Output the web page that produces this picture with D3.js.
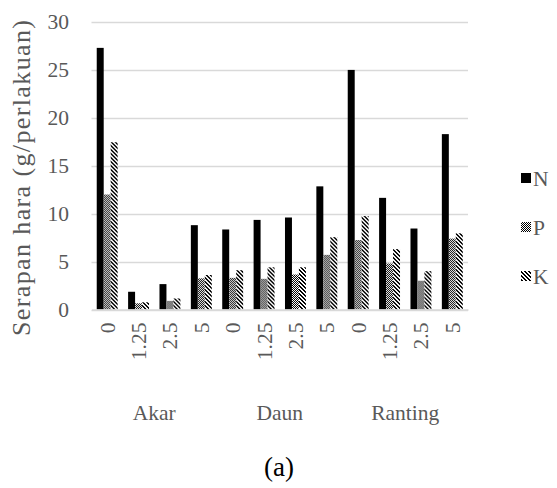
<!DOCTYPE html>
<html>
<head>
<meta charset="utf-8">
<script src="https://cdn.jsdelivr.net/npm/d3@7"></script>
<style>
  html, body { margin: 0; padding: 0; background: #fff; }
  svg { display: block; }
</style>
</head>
<body>
<svg id="chart" width="557" height="488"></svg>
<script>
// Plant parts (outer category) and doses (inner category)
const groups = ["Akar", "Daun", "Ranting"];
const doses = ["0", "1.25", "2.5", "5"];
const seriesNames = ["N", "P", "K"];

// Nutrient uptake per treatment, in order Akar 0..5, Daun 0..5, Ranting 0..5
const valuesN = [27.3, 1.85, 2.65, 8.8, 8.35, 9.35, 9.6, 12.85, 25.0, 11.65, 8.45, 18.3];
const valuesP = [12.0, 0.65, 0.9, 3.25, 3.3, 3.2, 3.65, 5.7, 7.25, 4.8, 3.0, 7.4];
const valuesK = [17.45, 0.75, 1.15, 3.6, 4.1, 4.4, 4.4, 7.55, 9.75, 6.3, 4.0, 7.95];

const yTicks = [0, 5, 10, 15, 20, 25, 30];

const FONT = "'Liberation Serif', 'Tinos', 'Times New Roman', 'DejaVu Serif', serif";
const FS = 21.5;
const svg = d3.select("#chart").style("font-family", FONT);
const plot = { left: 91.5, right: 468, top: 22, bottom: 309.5 };
const textGray = "#595959";

// Patterns for the P (checker) and K (diagonal) series
const defs = svg.append("defs");
const pP = defs.append("pattern").attr("id", "patP")
  .attr("patternUnits", "userSpaceOnUse").attr("width", 2).attr("height", 2);
pP.append("rect").attr("width", 2).attr("height", 2).attr("fill", "#fff");
pP.append("rect").attr("x", 0).attr("y", 0).attr("width", 1).attr("height", 1).attr("fill", "#000");
pP.append("rect").attr("x", 1).attr("y", 1).attr("width", 1).attr("height", 1).attr("fill", "#000");

const pK = defs.append("pattern").attr("id", "patK")
  .attr("patternUnits", "userSpaceOnUse").attr("width", 4).attr("height", 4);
pK.append("rect").attr("width", 4).attr("height", 4).attr("fill", "#fff");
[[0,0],[1,1],[2,2],[3,3],[1,0],[2,1],[3,2],[0,3]].forEach(([x, y]) => {
  pK.append("rect").attr("x", x).attr("y", y).attr("width", 1).attr("height", 1).attr("fill", "#000");
});

const fills = { N: "#000", P: "url(#patP)", K: "url(#patK)" };

// Flat list of categories: one per (group, dose)
const cats = [];
groups.forEach(g => doses.forEach(d => cats.push({ group: g, dose: d, key: g + "|" + d })));
const data = cats.map((c, i) => ({ ...c, N: valuesN[i], P: valuesP[i], K: valuesK[i] }));

const x0 = d3.scaleBand().domain(cats.map(c => c.key))
  .range([plot.left, plot.right]).paddingInner(0).paddingOuter(0);
const y = d3.scaleLinear().domain([0, 30]).range([plot.bottom, plot.top]);

// Gridlines
svg.append("g").selectAll("line").data(yTicks).join("line")
  .attr("x1", plot.left).attr("x2", plot.right)
  .attr("y1", d => Math.round(y(d)) + 0.5).attr("y2", d => Math.round(y(d)) + 0.5)
  .attr("stroke", "#d9d9d9").attr("stroke-width", 1.3);

// Y axis labels
const yAxis = d3.axisLeft(y).tickValues(yTicks).tickSize(0).tickPadding(0);
const gy = svg.append("g").attr("transform", `translate(69,0)`).call(yAxis)
  .attr("font-family", FONT);
gy.select(".domain").remove();
gy.selectAll("text").attr("fill", textGray).attr("font-size", FS);

// Bars: three bars per category with a 150% gap
const barW = x0.bandwidth() / 4.5;
const barG = svg.append("g").selectAll("g").data(data).join("g")
  .attr("transform", d => `translate(${x0(d.key) + barW * 0.75},0)`);
barG.selectAll("rect").data(d => seriesNames.map(s => ({ s, v: d[s] }))).join("rect")
  .attr("x", (d, i) => i * barW)
  .attr("width", barW)
  .attr("y", d => y(d.v))
  .attr("height", d => y(0) - y(d.v))
  .attr("fill", d => fills[d.s]);

// Dose labels (rotated)
const xAxis = d3.axisBottom(x0).tickSize(0).tickPadding(0).tickFormat(k => k.split("|")[1]);
const gx = svg.append("g").attr("transform", `translate(0,${plot.bottom})`).call(xAxis)
  .attr("font-family", FONT);
gx.select(".domain").attr("stroke", "#d9d9d9").attr("stroke-width", 1.3);
gx.selectAll("text")
  .attr("fill", textGray).attr("font-size", FS)
  .attr("text-anchor", "end")
  .attr("dy", null).attr("y", 0)
  .attr("transform", "translate(7.5,13) rotate(-90)");

// Group labels
svg.append("g").selectAll("text").data(groups).join("text")
  .attr("x", g => {
    const ks = cats.filter(c => c.group === g).map(c => c.key);
    return (x0(ks[0]) + x0(ks[ks.length - 1]) + x0.bandwidth()) / 2;
  })
  .attr("y", 420)
  .attr("text-anchor", "middle")
  .attr("fill", textGray).attr("font-size", FS)
  .text(g => g);

// Y axis title
svg.append("text")
  .attr("transform", `translate(30,178) rotate(-90)`)
  .attr("text-anchor", "middle")
  .attr("fill", textGray).attr("font-size", 26)
  .attr("textLength", 316).attr("lengthAdjust", "spacing")
  .text("Serapan hara (g/perlakuan)");

// Legend
const legend = svg.append("g").selectAll("g").data(seriesNames).join("g")
  .attr("transform", (d, i) => `translate(521,${178 + i * 49})`);
legend.append("rect").attr("x", 0).attr("y", -5).attr("width", 10).attr("height", 10)
  .attr("fill", d => fills[d]);
legend.append("text").attr("x", 12).attr("y", 0).attr("dy", "0.35em")
  .attr("fill", textGray).attr("font-size", FS).text(d => d);

// Caption
svg.append("text").attr("x", 279).attr("y", 476).attr("text-anchor", "middle")
  .attr("fill", "#000").attr("font-size", 27).text("(a)");
</script>
</body>
</html>
